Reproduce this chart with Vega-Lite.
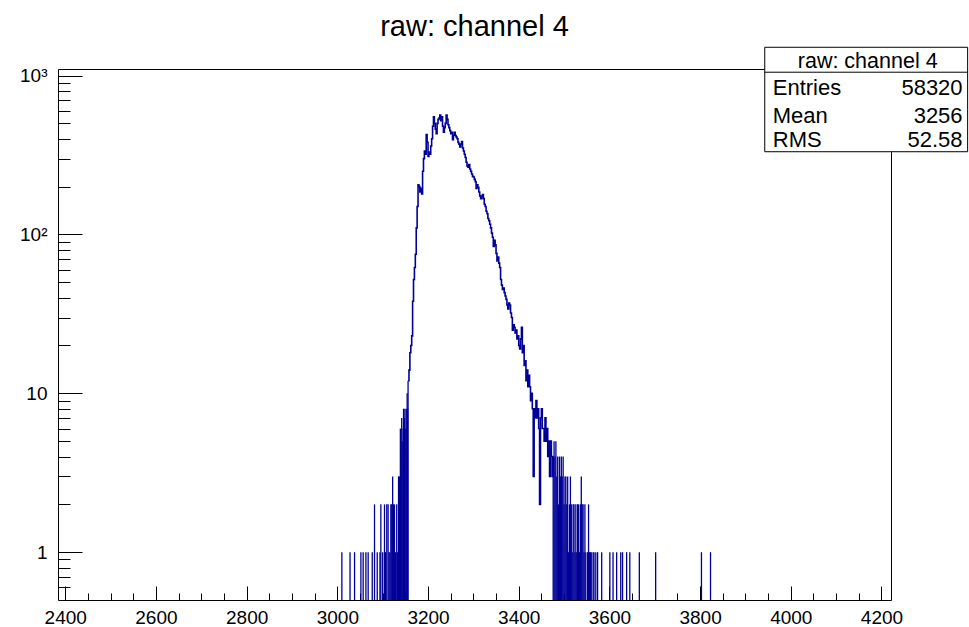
{
  "$schema": "https://vega.github.io/schema/vega-lite/v6.json",
  "width": 833,
  "height": 531,
  "autosize": {"type": "none"},
  "padding": {"left": 58, "top": 69, "right": 78, "bottom": 27},
  "background": "white",
  "title": {"text": "raw: channel 4", "font": "Liberation Sans", "fontSize": 29, "fontWeight": "normal", "color": "black", "anchor": "middle", "offset": 5},
  "config": {
    "view": {"stroke": null},
    "axis": {"domainColor": "black", "tickColor": "black", "labelColor": "black", "labelFont": "Liberation Sans", "grid": false, "title": null, "domainWidth": 1, "tickWidth": 1}
  },
  "datasets": {
    "core": [
      {"x":3156,"n":12},{"x":3158,"n":14},{"x":3160,"n":18},{"x":3162,"n":20},{"x":3164,"n":23},{"x":3166,"n":38},{"x":3168,"n":52},{"x":3170,"n":62},{"x":3172,"n":75},{"x":3174,"n":110},
      {"x":3176,"n":150},{"x":3178,"n":205},{"x":3180,"n":200},{"x":3182,"n":185},{"x":3184,"n":195},{"x":3186,"n":180},{"x":3188,"n":250},{"x":3190,"n":300},{"x":3192,"n":335},{"x":3194,"n":320},
      {"x":3196,"n":425},{"x":3198,"n":380},{"x":3200,"n":310},{"x":3202,"n":330},{"x":3204,"n":320},{"x":3206,"n":360},{"x":3208,"n":400},{"x":3210,"n":480},{"x":3212,"n":550},{"x":3214,"n":500},
      {"x":3216,"n":460},{"x":3218,"n":430},{"x":3220,"n":500},{"x":3222,"n":530},{"x":3224,"n":540},{"x":3226,"n":565},{"x":3228,"n":520},{"x":3230,"n":550},{"x":3232,"n":480},{"x":3234,"n":440},
      {"x":3236,"n":470},{"x":3238,"n":500},{"x":3240,"n":565},{"x":3242,"n":530},{"x":3244,"n":490},{"x":3246,"n":470},{"x":3248,"n":450},{"x":3250,"n":430},{"x":3252,"n":440},{"x":3254,"n":395},
      {"x":3256,"n":420},{"x":3258,"n":440},{"x":3260,"n":420},{"x":3262,"n":410},{"x":3264,"n":400},{"x":3266,"n":380},{"x":3268,"n":370},{"x":3270,"n":355},{"x":3272,"n":370},{"x":3274,"n":385},
      {"x":3276,"n":350},{"x":3278,"n":335},{"x":3280,"n":320},{"x":3282,"n":305},{"x":3284,"n":285},{"x":3286,"n":270},{"x":3288,"n":265},{"x":3290,"n":275},{"x":3292,"n":258},{"x":3294,"n":250},
      {"x":3296,"n":240},{"x":3298,"n":232},{"x":3300,"n":230},{"x":3302,"n":222},{"x":3304,"n":215},{"x":3306,"n":195},{"x":3308,"n":205},{"x":3310,"n":198},{"x":3312,"n":185},{"x":3314,"n":175},
      {"x":3316,"n":168},{"x":3318,"n":172},{"x":3320,"n":178},{"x":3322,"n":168},{"x":3324,"n":155},{"x":3326,"n":150},{"x":3328,"n":140},{"x":3330,"n":135},{"x":3332,"n":126},{"x":3334,"n":122},
      {"x":3336,"n":116},{"x":3338,"n":110},{"x":3340,"n":102},{"x":3342,"n":96},{"x":3344,"n":84},{"x":3346,"n":92},{"x":3348,"n":86},{"x":3350,"n":76},{"x":3352,"n":68},{"x":3354,"n":72},
      {"x":3356,"n":66},{"x":3358,"n":62},{"x":3360,"n":52},{"x":3362,"n":48},{"x":3364,"n":45},{"x":3366,"n":46},{"x":3368,"n":43},{"x":3370,"n":41},{"x":3372,"n":39},{"x":3374,"n":36},
      {"x":3376,"n":34},{"x":3378,"n":37},{"x":3380,"n":36},{"x":3382,"n":32},{"x":3384,"n":30},{"x":3386,"n":25},{"x":3388,"n":27},{"x":3390,"n":26},{"x":3392,"n":24},{"x":3394,"n":25},
      {"x":3396,"n":22},{"x":3398,"n":23},{"x":3400,"n":20},{"x":3402,"n":19},{"x":3404,"n":22},{"x":3406,"n":26},{"x":3408,"n":18},{"x":3410,"n":20},{"x":3412,"n":15},{"x":3414,"n":16},
      {"x":3416,"n":12},{"x":3418,"n":14},{"x":3420,"n":11},{"x":3422,"n":13},{"x":3424,"n":11},{"x":3426,"n":9},{"x":3428,"n":10},{"x":3430,"n":8},{"x":3432,"n":3},{"x":3434,"n":8},
      {"x":3436,"n":7},{"x":3438,"n":9},{"x":3440,"n":7},{"x":3442,"n":8},{"x":3444,"n":6},{"x":3446,"n":2},{"x":3448,"n":7},{"x":3450,"n":8},{"x":3452,"n":6},{"x":3454,"n":6},
      {"x":3456,"n":5},{"x":3458,"n":7},{"x":3460,"n":5},{"x":3462,"n":6},{"x":3464,"n":4},{"x":3466,"n":5},{"x":3468,"n":3},{"x":3470,"n":5},{"x":3472,"n":4},{"x":3474,"n":3},{"x":3476,"n":4}
    ],
    "tail": [
      {"x":3010,"n":1},{"x":3028,"n":1},{"x":3038,"n":1},{"x":3052,"n":1},{"x":3057,"n":1},{"x":3063,"n":1},{"x":3068,"n":1},{"x":3077,"n":1},{"x":3082,"n":2},{"x":3088,"n":1},
      {"x":3094,"n":1},{"x":3096,"n":2},{"x":3100,"n":1},{"x":3104,"n":2},{"x":3106,"n":1},{"x":3109,"n":2},{"x":3112,"n":2},{"x":3114,"n":1},{"x":3116,"n":1},{"x":3118,"n":2},
      {"x":3120,"n":2},{"x":3122,"n":3},{"x":3124,"n":2},{"x":3126,"n":2},{"x":3128,"n":1},{"x":3131,"n":2},{"x":3133,"n":1},{"x":3135,"n":3},{"x":3137,"n":3},{"x":3139,"n":6},
      {"x":3140,"n":4},{"x":3142,"n":7},{"x":3143,"n":5},{"x":3145,"n":6},{"x":3146,"n":8},{"x":3148,"n":7},{"x":3149,"n":8},{"x":3151,"n":6},{"x":3152,"n":8},{"x":3154,"n":10},
      {"x":3155,"n":8},{"x":3156,"n":12},
      {"x":3476,"n":4},{"x":3478,"n":5},{"x":3480,"n":4},{"x":3482,"n":5},{"x":3484,"n":3},{"x":3486,"n":4},{"x":3488,"n":2},{"x":3490,"n":4},{"x":3492,"n":3},{"x":3494,"n":4},
      {"x":3496,"n":3},{"x":3498,"n":4},{"x":3500,"n":2},{"x":3502,"n":3},{"x":3504,"n":3},{"x":3506,"n":2},{"x":3508,"n":3},{"x":3510,"n":1},{"x":3512,"n":2},{"x":3514,"n":3},
      {"x":3516,"n":2},{"x":3518,"n":1},{"x":3520,"n":2},{"x":3522,"n":2},{"x":3524,"n":1},{"x":3526,"n":2},{"x":3528,"n":1},{"x":3530,"n":2},{"x":3532,"n":2},{"x":3534,"n":1},
      {"x":3536,"n":2},{"x":3538,"n":3},{"x":3540,"n":2},{"x":3542,"n":2},{"x":3544,"n":1},{"x":3546,"n":2},{"x":3548,"n":1},{"x":3552,"n":1},{"x":3554,"n":2},{"x":3556,"n":1},
      {"x":3558,"n":1},{"x":3560,"n":1},{"x":3564,"n":1},{"x":3566,"n":1},{"x":3570,"n":1},{"x":3574,"n":1},{"x":3583,"n":1},{"x":3601,"n":1},{"x":3608,"n":1},{"x":3616,"n":1},
      {"x":3625,"n":1},{"x":3629,"n":1},{"x":3638,"n":1},{"x":3645,"n":1},{"x":3666,"n":1},{"x":3702,"n":1},{"x":3803,"n":1},{"x":3823,"n":1}
    ],
    "one": [{}]
  },
  "resolve": {"axis": {"x": "independent", "y": "independent"}},
  "layer": [
    {
      "data": {"name": "tail"},
      "mark": {"type": "rule", "color": "#000099", "strokeWidth": 1.3},
      "encoding": {
        "x": {"field": "x", "type": "quantitative", "scale": {"domain": [2384, 4221], "nice": false, "zero": false},
              "axis": {"orient": "bottom", "values": [2400, 2600, 2800, 3000, 3200, 3400, 3600, 3800, 4000, 4200], "format": "d", "tickSize": -14, "labelFontSize": 19, "labelPadding": 22, "labelFlush": false}},
        "y": {"field": "n", "type": "quantitative", "scale": {"type": "log", "domain": [0.5, 1100], "nice": false},
              "axis": {"orient": "left", "values": [1, 10, 100, 1000], "tickSize": -24, "labelFontSize": 19, "labelPadding": 35, "labelExpr": "datum.value == 1000 ? '10³' : datum.value == 100 ? '10²' : datum.value == 10 ? '10' : '1'"}},
        "y2": {"datum": 0.5}
      }
    },
    {
      "data": {"name": "core"},
      "mark": {"type": "line", "color": "#000099", "strokeWidth": 1.6, "interpolate": "step-after"},
      "encoding": {
        "x": {"field": "x", "type": "quantitative", "scale": {"domain": [2384, 4221], "nice": false, "zero": false},
              "axis": {"orient": "bottom", "domain": false, "labels": false, "tickSize": -7,
                       "values": [2400,2450,2500,2550,2600,2650,2700,2750,2800,2850,2900,2950,3000,3050,3100,3150,3200,3250,3300,3350,3400,3450,3500,3550,3600,3650,3700,3750,3800,3850,3900,3950,4000,4050,4100,4150,4200]}},
        "y": {"field": "n", "type": "quantitative", "scale": {"type": "log", "domain": [0.5, 1100], "nice": false},
              "axis": {"orient": "left", "domain": false, "labels": false, "tickSize": -12,
                       "values": [0.6,0.7,0.8,0.9,2,3,4,5,6,7,8,9,20,30,40,50,60,70,80,90,200,300,400,500,600,700,800,900]}}
      }
    },
    {
      "data": {"name": "one"},
      "mark": {"type": "rect", "fill": "white", "stroke": "black", "strokeWidth": 1},
      "encoding": {
        "x": {"datum": 3942.6, "type": "quantitative", "axis": {"orient": "top", "domain": true, "ticks": false, "labels": false}},
        "x2": {"datum": 4390},
        "y": {"datum": 1507, "type": "quantitative", "axis": {"orient": "right", "domain": true, "ticks": false, "labels": false}},
        "y2": {"datum": 331.6}
      }
    },
    {
      "data": {"name": "one"},
      "mark": {"type": "rule", "color": "black", "strokeWidth": 1},
      "encoding": {
        "x": {"datum": 3942.6, "type": "quantitative", "axis": null},
        "x2": {"datum": 4390},
        "y": {"datum": 1050, "type": "quantitative", "axis": null}
      }
    },
    {
      "data": {"name": "one"},
      "mark": {"type": "text", "font": "Liberation Sans", "fontSize": 21.5, "align": "center", "baseline": "alphabetic", "color": "black"},
      "encoding": {"x": {"datum": 4169.6, "type": "quantitative", "axis": null}, "y": {"datum": 1118, "type": "quantitative", "axis": null}, "text": {"value": "raw: channel 4"}}
    },
    {
      "data": {"name": "one"},
      "mark": {"type": "text", "font": "Liberation Sans", "fontSize": 22, "align": "left", "baseline": "alphabetic", "color": "black"},
      "encoding": {"x": {"datum": 3960.2, "type": "quantitative", "axis": null}, "y": {"datum": 756.6, "type": "quantitative", "axis": null}, "text": {"value": "Entries"}}
    },
    {
      "data": {"name": "one"},
      "mark": {"type": "text", "font": "Liberation Sans", "fontSize": 22, "align": "left", "baseline": "alphabetic", "color": "black"},
      "encoding": {"x": {"datum": 3960.2, "type": "quantitative", "axis": null}, "y": {"datum": 504.6, "type": "quantitative", "axis": null}, "text": {"value": "Mean"}}
    },
    {
      "data": {"name": "one"},
      "mark": {"type": "text", "font": "Liberation Sans", "fontSize": 22, "align": "left", "baseline": "alphabetic", "color": "black"},
      "encoding": {"x": {"datum": 3960.2, "type": "quantitative", "axis": null}, "y": {"datum": 356.6, "type": "quantitative", "axis": null}, "text": {"value": "RMS"}}
    },
    {
      "data": {"name": "one"},
      "mark": {"type": "text", "font": "Liberation Sans", "fontSize": 22, "align": "right", "baseline": "alphabetic", "color": "black"},
      "encoding": {"x": {"datum": 4378.9, "type": "quantitative", "axis": null}, "y": {"datum": 756.6, "type": "quantitative", "axis": null}, "text": {"value": "58320"}}
    },
    {
      "data": {"name": "one"},
      "mark": {"type": "text", "font": "Liberation Sans", "fontSize": 22, "align": "right", "baseline": "alphabetic", "color": "black"},
      "encoding": {"x": {"datum": 4378.9, "type": "quantitative", "axis": null}, "y": {"datum": 504.6, "type": "quantitative", "axis": null}, "text": {"value": "3256"}}
    },
    {
      "data": {"name": "one"},
      "mark": {"type": "text", "font": "Liberation Sans", "fontSize": 22, "align": "right", "baseline": "alphabetic", "color": "black"},
      "encoding": {"x": {"datum": 4378.9, "type": "quantitative", "axis": null}, "y": {"datum": 356.6, "type": "quantitative", "axis": null}, "text": {"value": "52.58"}}
    }
  ]
}
